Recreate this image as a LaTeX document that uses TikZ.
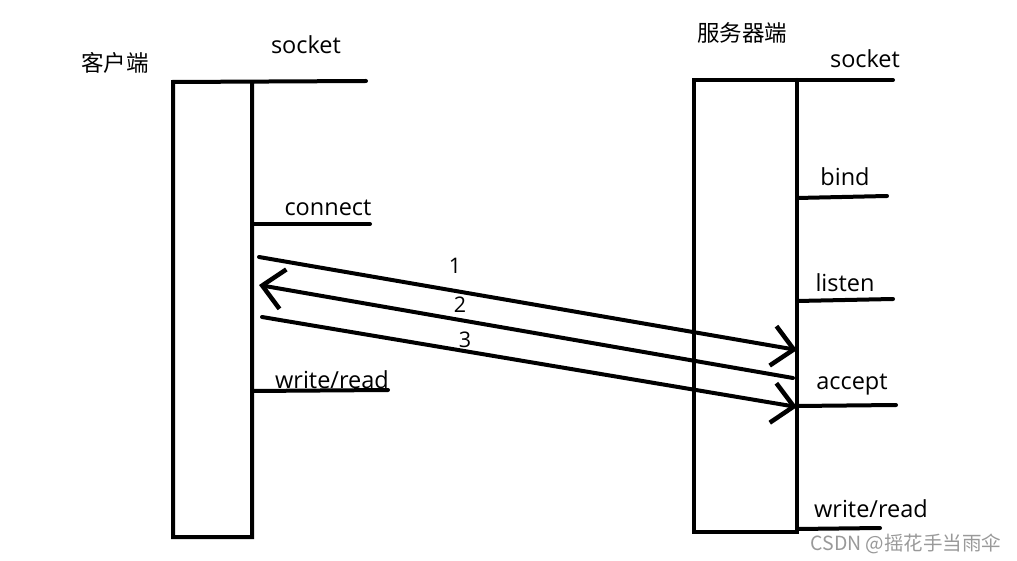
\documentclass[tikz,border=0pt]{standalone}
\usepackage{fontspec}
\setmainfont{Open Sans}
\newfontfamily\cjk{Noto Sans CJK SC}
\usetikzlibrary{arrows.meta}
\begin{document}
\begin{tikzpicture}[x=1pt,y=-1pt,
  stroke/.style={line width=4pt, line cap=round, line join=miter},
  lbl/.style={font=\fontsize{23.5}{27}\selectfont, inner sep=0pt},
  cjklbl/.style={font=\cjk\fontsize{22.5}{26}\selectfont, inner sep=0pt},
  num/.style={font=\fontsize{21.5}{25}\selectfont, inner sep=0pt},
  msg/.style={stroke, -{Straight Barb[length=21pt,width=40pt,line width=4.5pt]}},
  wmark/.style={font=\cjk\fontsize{19.5}{22}\selectfont, text=black!40, inner sep=0pt}]
\useasboundingbox (0,0) rectangle (1017,561);
\fill[white] (0,0) rectangle (1017,561);
% client
\coordinate (cTL) at (173,82);
\coordinate (cTR) at (252,82);
\coordinate (cBL) at (173,537);
\coordinate (cBR) at (252,537);
\coordinate (cTop) at (366,81);
\coordinate (cCon) at (370,224);
\coordinate (cCon0) at (252,224);
\coordinate (cWR) at (388,390);
\coordinate (cWR0) at (252,391);
\draw[stroke] (cTop) -- (cTL) -- (cBL) -- (cBR) -- (cTR);
\draw[stroke] (cCon0) -- (cCon);
\draw[stroke] (cWR0) -- (cWR);
% server
\coordinate (sTL) at (694,80);
\coordinate (sTR) at (797,80);
\coordinate (sBL) at (694,532);
\coordinate (sBR) at (797,532);
\coordinate (sTop) at (893,80);
\draw[stroke] (sTop) -- (sTL) -- (sBL) -- (sBR) -- (sTR);
\coordinate (sB0) at (797,198);  \coordinate (sB1) at (887,196);
\coordinate (sL0) at (797,301);  \coordinate (sL1) at (893,299);
\coordinate (sA0) at (797,406);  \coordinate (sA1) at (896,405);
\coordinate (sW0) at (797,529);  \coordinate (sW1) at (880,528);
\draw[stroke] (sB0) -- (sB1);
\draw[stroke] (sL0) -- (sL1);
\draw[stroke] (sA0) -- (sA1);
\draw[stroke] (sW0) -- (sW1);
% messages
\coordinate (m1s) at (259,257); \coordinate (m1e) at (797,350);
\coordinate (m2s) at (793,378); \coordinate (m2e) at (259,285);
\coordinate (m3s) at (262,317); \coordinate (m3e) at (797,407);
\draw[msg] (m1s) -- (m1e);
\draw[msg] (m2s) -- (m2e);
\draw[msg] (m3s) -- (m3e);
\node[num] (n1) at (455,266) {1};
\node[num] (n2) at (460,305) {2};
\node[num] (n3) at (465,340) {3};
% labels
\node[cjklbl] (client) at (115,63) {客户端};
\node[cjklbl] (server) at (742,33) {服务器端};
\node[lbl] (csock) at (306,45) {socket};
\node[lbl] (ccon) at (328,208) {connect};
\node[lbl] (cwr) at (332,380) {write/read};
\node[lbl] (ssock) at (865,59) {socket};
\node[lbl] (sbind) at (845,177) {bind};
\node[lbl] (slisten) at (845,283) {listen};
\node[lbl] (saccept) at (852,385) {accept};
\node[lbl] (swr) at (871,509) {write/read};
\node[wmark] (wm) at (906,544) {CSDN @摇花手当雨伞};
\end{tikzpicture}
\end{document}
